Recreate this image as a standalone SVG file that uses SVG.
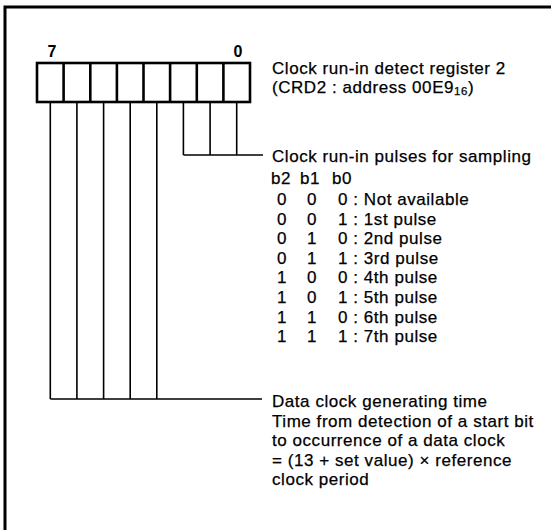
<svg xmlns="http://www.w3.org/2000/svg" width="551" height="530" viewBox="0 0 551 530">
<style>
.t{font-family:"Liberation Sans",Arial,sans-serif;font-size:17px;letter-spacing:0.55px;fill:#000;stroke:#000;stroke-width:0.25}
.n{font-family:"Liberation Sans",Arial,sans-serif;font-size:16px;font-weight:bold;fill:#000}
.ln{stroke:#000;stroke-width:1.6;fill:none}
.box{stroke:#000;stroke-width:2.6;fill:#fff}
</style>
<rect width="551" height="530" fill="#fff"/>
<rect x="5" y="7" width="600" height="600" fill="none" stroke="#000" stroke-width="3"/>
<g id="register">
<rect class="box" x="37" y="63" width="213" height="39"/>
<path class="box" d="M63.6 63V102M90.3 63V102M116.9 63V102M143.5 63V102M170.1 63V102M196.8 63V102M223.4 63V102"/>
<text class="n" x="52" y="57" text-anchor="middle">7</text>
<text class="n" x="238" y="57" text-anchor="middle">0</text>
</g>
<g id="connectors">
<path class="ln" d="M50.3 102V399M76.9 102V399M103.6 102V399M130.2 102V399M156.8 102V399M50.3 399H262"/>
<path class="ln" d="M183.4 102V155M210.1 102V155M236.7 102V155M183.4 155H263"/>
</g>
<g id="register-label">
<text class="t" x="272" y="73.5">Clock run-in detect register 2</text>
<text class="t" x="272" y="93">(CRD2 : address 00E9<tspan font-size="11.5" dy="1.5">16</tspan><tspan dy="-1.5">)</tspan></text>
</g>
<g id="pulses-label">
<text class="t" x="272" y="162">Clock run-in pulses for sampling</text>
<text class="t" x="271" y="184">b2</text>
<text class="t" x="300" y="184">b1</text>
<text class="t" x="332" y="184">b0</text>
<g class="t">
<text x="277" y="205">0</text><text x="307" y="205">0</text><text x="338" y="205">0 : Not available</text>
<text x="277" y="224.6">0</text><text x="307" y="224.6">0</text><text x="338" y="224.6">1 : 1st pulse</text>
<text x="277" y="244.2">0</text><text x="307" y="244.2">1</text><text x="338" y="244.2">0 : 2nd pulse</text>
<text x="277" y="263.8">0</text><text x="307" y="263.8">1</text><text x="338" y="263.8">1 : 3rd pulse</text>
<text x="277" y="283.4">1</text><text x="307" y="283.4">0</text><text x="338" y="283.4">0 : 4th pulse</text>
<text x="277" y="303">1</text><text x="307" y="303">0</text><text x="338" y="303">1 : 5th pulse</text>
<text x="277" y="322.6">1</text><text x="307" y="322.6">1</text><text x="338" y="322.6">0 : 6th pulse</text>
<text x="277" y="342.2">1</text><text x="307" y="342.2">1</text><text x="338" y="342.2">1 : 7th pulse</text>
</g>
</g>
<g id="data-clock-label">
<text class="t" x="272" y="407">Data clock generating time</text>
<text class="t" x="272" y="426.5">Time from detection of a start bit</text>
<text class="t" x="272" y="446">to occurrence of a data clock</text>
<text class="t" x="272" y="465.5">= (13 + set value) × reference</text>
<text class="t" x="272" y="485">clock period</text>
</g>
</svg>
